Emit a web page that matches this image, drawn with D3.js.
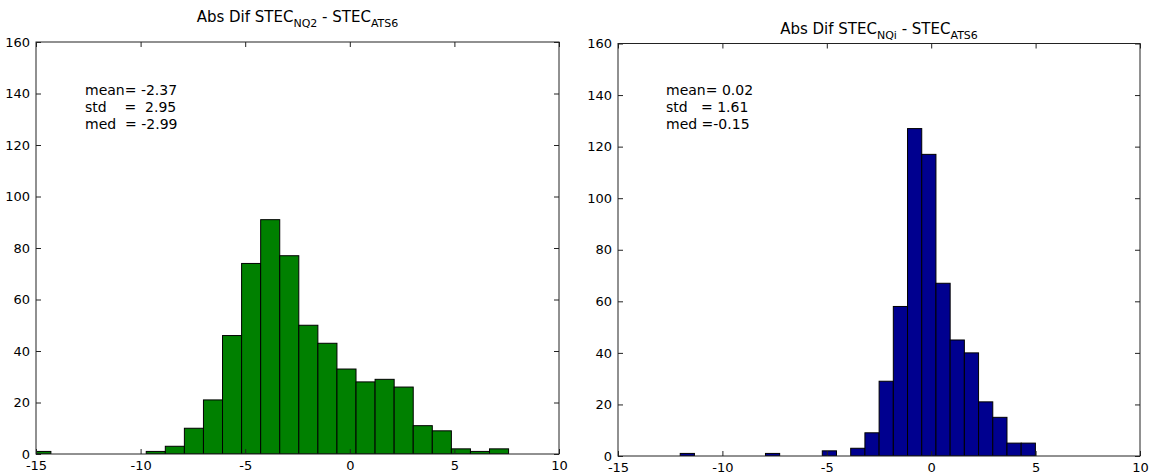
<!DOCTYPE html>
<html>
<head>
<meta charset="utf-8">
<script src="https://cdn.jsdelivr.net/npm/d3@7"></script>
<style>
    body { margin: 0; background: #fff; }
    text { font-family: "DejaVu Sans", sans-serif; fill: #000; }
</style>
</head>
<body>
<script>
//histogram counts, 25 bins each
var countsNQ2 = [1,0,0,0,0,0,1,3,10,21,46,74,91,77,50,43,33,28,29,26,11,9,2,1,2];
var countsNQi = [1,0,0,0,0,0,1,0,0,0,2,0,3,9,29,58,127,117,67,45,40,21,15,5,5];
//data range covered by the bins (min, max)
var rangeNQ2 = [-15.2, 7.59];
var rangeNQi = [-12.02, 4.99];
//axis ticks
var xTicks = [-15,-10,-5,0,5,10];
var yTicks = [0,20,40,60,80,100,120,140,160];
//annotation lines
var statsNQ2 = ["mean= -2.37", "std    =  2.95", "med  = -2.99"];
var statsNQi = ["mean= 0.02", "std   = 1.61", "med =-0.15"];

var width = 1149, height = 476;

var svg = d3.select("body").append("svg")
	.attr("width", width)
	.attr("height", height);

//one panel per histogram
drawPanel({id: "nq2", left: 36, right: 559, top: 42, bottom: 454,
	   counts: countsNQ2, range: rangeNQ2, fill: "#008000",
	   sub1: "NQ2", titleY: 22, stats: statsNQ2, statsX: 85});
drawPanel({id: "nqi", left: 618, right: 1140, top: 43.5, bottom: 456,
	   counts: countsNQi, range: rangeNQi, fill: "#00008f",
	   sub1: "NQi", titleY: 33.5, stats: statsNQi, statsX: 666});

function drawPanel(p){
    var x = d3.scaleLinear().domain([-15, 10]).range([p.left, p.right]);
    var y = d3.scaleLinear().domain([0, 160]).range([p.bottom, p.top]);

    //bin edges from the data range
    var step = (p.range[1] - p.range[0]) / p.counts.length;
    var bins = p.counts.map(function(c, i){
	return {x0: p.range[0] + i*step, x1: p.range[0] + (i+1)*step, n: c};
    });

    svg.append("clipPath")
	.attr("id", "clip-" + p.id)
	.append("rect")
	.attr("x", p.left)
	.attr("y", p.top)
	.attr("width", p.right - p.left)
	.attr("height", p.bottom - p.top);

    var g = svg.append("g");

    g.append("g")
	.attr("clip-path", "url(#clip-" + p.id + ")")
	.selectAll("rect")
	.data(bins.filter(function(d){ return d.n > 0; }))
	.enter()
	.append("rect")
	.attr("x", function(d){ return x(d.x0); })
	.attr("y", function(d){ return y(d.n); })
	.attr("width", function(d){ return x(d.x1) - x(d.x0); })
	.attr("height", function(d){ return y(0) - y(d.n); })
	.attr("fill", p.fill)
	.attr("stroke", "#000")
	.attr("stroke-width", 1);

    //plain hyphen for negative labels, as in the original
    var fmt = function(d){ return String(d); };

    //ticks point inward on all four sides
    g.append("g")
	.attr("transform", "translate(0," + p.bottom + ")")
	.call(d3.axisBottom(x).tickValues(xTicks).tickFormat(fmt).tickSizeInner(-5).tickSizeOuter(0).tickPadding(7));
    g.append("g")
	.attr("transform", "translate(0," + p.top + ")")
	.call(d3.axisTop(x).tickValues(xTicks).tickSizeInner(-5).tickSizeOuter(0).tickFormat(""));
    g.append("g")
	.attr("transform", "translate(" + p.left + ",0)")
	.call(d3.axisLeft(y).tickValues(yTicks).tickFormat(fmt).tickSizeInner(-5).tickSizeOuter(0).tickPadding(6));
    g.append("g")
	.attr("transform", "translate(" + p.right + ",0)")
	.call(d3.axisRight(y).tickValues(yTicks).tickSizeInner(-5).tickSizeOuter(0).tickFormat(""));

    g.selectAll(".domain").remove();
    g.selectAll(".tick line").attr("stroke", "#222");
    g.selectAll(".tick text")
	.attr("font-size", "13px")
	.attr("font-family", null)
	.attr("fill", "#000");

    //axes box
    g.append("rect")
	.attr("x", p.left)
	.attr("y", p.top)
	.attr("width", p.right - p.left)
	.attr("height", p.bottom - p.top)
	.attr("fill", "none")
	.attr("stroke", "#222")
	.attr("stroke-width", 1);

    //title with subscripts
    var title = g.append("text")
	.attr("x", (p.left + p.right) / 2)
	.attr("y", p.titleY)
	.attr("text-anchor", "middle")
	.attr("font-size", "15px");
    title.append("tspan").text("Abs Dif STEC");
    title.append("tspan").attr("font-size", "11px").attr("dy", 5).text(p.sub1);
    title.append("tspan").attr("dy", -5).text(" - STEC");
    title.append("tspan").attr("font-size", "11px").attr("dy", 5).text("ATS6");

    //statistics text
    g.selectAll(".stat")
	.data(p.stats)
	.enter()
	.append("text")
	.attr("class", "stat")
	.attr("x", p.statsX)
	.attr("y", function(d, i){ return 95 + i*17; })
	.attr("font-size", "14px")
	.style("white-space", "pre")
	.text(function(d){ return d; });
}
</script>
</body>
</html>
